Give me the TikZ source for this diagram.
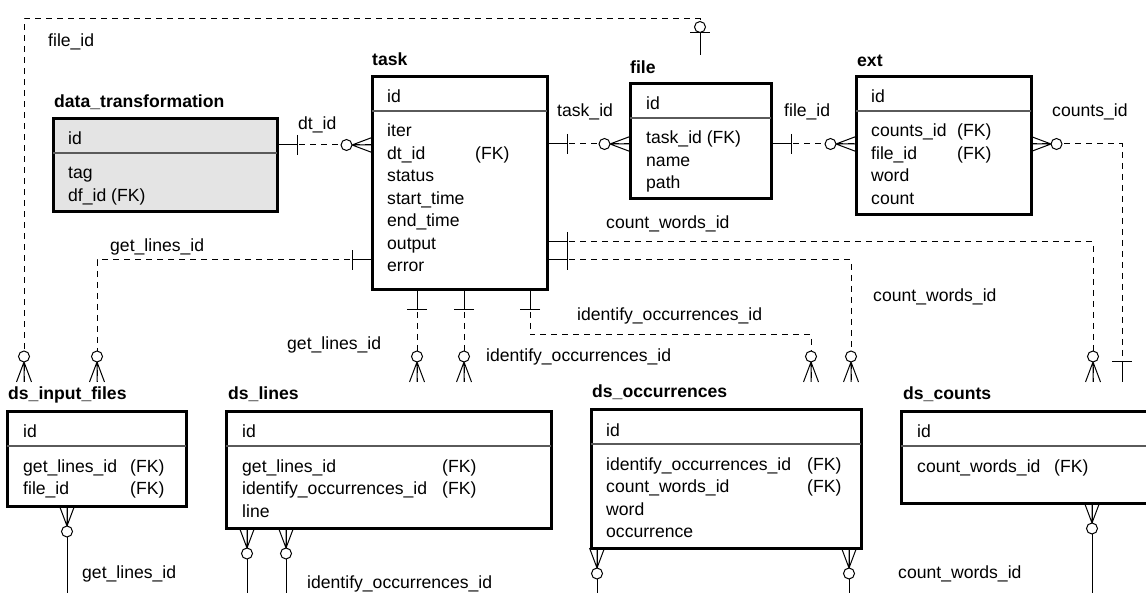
\documentclass[tikz,border=0pt]{standalone}
\usepackage{fontspec}
\setmainfont{Liberation Sans}
\usetikzlibrary{calc}
\newcommand\fsz{\fontsize{17.6}{21}\selectfont}
\definecolor{dtgray}{RGB}{228,228,228}
\definecolor{sepgray}{RGB}{90,90,90}
\tikzset{
  conn/.style={line width=1pt, solid},
  rel/.style={line width=1pt, dash pattern=on 6pt off 5pt},
  idrel/.style={line width=1pt},
  ebox/.style={draw, line width=3pt, anchor=north west, inner sep=0pt, outer sep=0pt},
  fld/.style={anchor=base west, inner sep=0pt, font=\fsz},
  ttl/.style={anchor=base west, inner sep=0pt, font=\fsz\bfseries},
  lbl/.style={anchor=base west, inner sep=0pt, font=\fsz},
  sepl/.style={line width=1.4pt, draw=sepgray},
  pics/one/.style={code={\draw[conn] (0,0) -- (20,0) (20,-10) -- (20,10);}},
  pics/zmany/.style={code={\draw[conn] (0,-7.5) -- (20,0) -- (0,7.5) (0,0) -- (20,0); \draw[conn, fill=white] (25.5,0) circle[radius=5.5pt];}},
  pics/zone/.style={code={\draw[conn] (0,0) -- (22,0) (22,-10) -- (22,10); \draw[conn, fill=white] (28,0) circle[radius=5.5pt];}},
}
\begin{document}
\begin{tikzpicture}[x=1pt,y=-1pt]
\path[use as bounding box, fill=white] (0,0) rectangle (1146,593);
\clip (0,0) rectangle (1146,593);

% ---------- entities ----------
% data_transformation
\node[ebox, fill=dtgray, minimum width=224pt, minimum height=93pt] (dt) at (53,119) {};
\draw[sepl] ($(dt.north west)+(0,34)$) -- ($(dt.north east)+(0,34)$);
\node[ttl] (dt-t) at (54,108) {data\_transformation};
\node[fld] (dt-1) at (68,145) {id};
\node[fld] (dt-2) at (68,179) {tag};
\node[fld] (dt-3) at (68,201.5) {df\_id (FK)};

% task
\node[ebox, fill=white, minimum width=175pt, minimum height=213pt] (task) at (372,77) {};
\draw[sepl] ($(task.north west)+(0,34)$) -- ($(task.north east)+(0,34)$);
\node[ttl] (task-t) at (372,66) {task};
\node[fld] (task-1) at (387,103) {id};
\node[fld] (task-2) at (387,137) {iter};
\node[fld] (task-3) at (387,159.5) {dt\_id};
\node[fld] (task-3k) at (475,159.5) {(FK)};
\node[fld] (task-4) at (387,182) {status};
\node[fld] (task-5) at (387,204.5) {start\_time};
\node[fld] (task-6) at (387,227) {end\_time};
\node[fld] (task-7) at (387,249.5) {output};
\node[fld] (task-8) at (387,272) {error};

% file
\node[ebox, fill=white, minimum width=141pt, minimum height=115pt] (file) at (630,84) {};
\draw[sepl] ($(file.north west)+(0,34)$) -- ($(file.north east)+(0,34)$);
\node[ttl] (file-t) at (630,74) {file};
\node[fld] (file-1) at (646,110) {id};
\node[fld] (file-2) at (646,144) {task\_id (FK)};
\node[fld] (file-3) at (646,166.5) {name};
\node[fld] (file-4) at (646,189) {path};

% ext
\node[ebox, fill=white, minimum width=175pt, minimum height=138pt] (ext) at (856,77) {};
\draw[sepl] ($(ext.north west)+(0,34)$) -- ($(ext.north east)+(0,34)$);
\node[ttl] (ext-t) at (857,67) {ext};
\node[fld] (ext-1) at (871,103) {id};
\node[fld] (ext-2) at (871,137) {counts\_id};
\node[fld] (ext-2k) at (957,137) {(FK)};
\node[fld] (ext-3) at (871,159.5) {file\_id};
\node[fld] (ext-3k) at (957,159.5) {(FK)};
\node[fld] (ext-4) at (871,182) {word};
\node[fld] (ext-5) at (871,204.5) {count};

% ds_input_files
\node[ebox, fill=white, minimum width=179pt, minimum height=94pt] (dsif) at (7,412) {};
\draw[sepl] ($(dsif.north west)+(0,34)$) -- ($(dsif.north east)+(0,34)$);
\node[ttl] (dsif-t) at (8,400) {ds\_input\_files};
\node[fld] (dsif-1) at (23,438) {id};
\node[fld] (dsif-2) at (23,472) {get\_lines\_id};
\node[fld] (dsif-2k) at (130,472) {(FK)};
\node[fld] (dsif-3) at (23,494.5) {file\_id};
\node[fld] (dsif-3k) at (130,494.5) {(FK)};

% ds_lines
\node[ebox, fill=white, minimum width=325pt, minimum height=116pt] (lines) at (226,412) {};
\draw[sepl] ($(lines.north west)+(0,34)$) -- ($(lines.north east)+(0,34)$);
\node[ttl] (lines-t) at (228,400) {ds\_lines};
\node[fld] (lines-1) at (242,438) {id};
\node[fld] (lines-2) at (242,472) {get\_lines\_id};
\node[fld] (lines-2k) at (442,472) {(FK)};
\node[fld] (lines-3) at (242,494.5) {identify\_occurrences\_id};
\node[fld] (lines-3k) at (442,494.5) {(FK)};
\node[fld] (lines-4) at (242,517) {line};

% ds_occurrences
\node[ebox, fill=white, minimum width=270pt, minimum height=138pt] (occ) at (591,410) {};
\draw[sepl] ($(occ.north west)+(0,34)$) -- ($(occ.north east)+(0,34)$);
\node[ttl] (occ-t) at (592,398) {ds\_occurrences};
\node[fld] (occ-1) at (606,436) {id};
\node[fld] (occ-2) at (606,470) {identify\_occurrences\_id};
\node[fld] (occ-2k) at (807,470) {(FK)};
\node[fld] (occ-3) at (606,492.5) {count\_words\_id};
\node[fld] (occ-3k) at (807,492.5) {(FK)};
\node[fld] (occ-4) at (606,515) {word};
\node[fld] (occ-5) at (606,537.5) {occurrence};

% ds_counts
\node[ebox, fill=white, minimum width=260pt, minimum height=91pt] (cnt) at (901,412) {};
\draw[sepl] ($(cnt.north west)+(0,34)$) -- ($(cnt.north east)+(0,34)$);
\node[ttl] (cnt-t) at (903,400) {ds\_counts};
\node[fld] (cnt-1) at (917,438) {id};
\node[fld] (cnt-2) at (917,472) {count\_words\_id};
\node[fld] (cnt-2k) at (1054,472) {(FK)};

% ---------- attachment points above titles ----------
\coordinate (file-top) at ($(file.north west)+(0,-29)$);
\coordinate (dsif-top) at ($(dsif.north west)+(0,-30)$);
\coordinate (lines-top) at ($(lines.north west)+(0,-30)$);
\coordinate (occ-top) at ($(occ.north west)+(0,-28)$);
\coordinate (cnt-top) at ($(cnt.north west)+(0,-30)$);
\coordinate (edge) at (0,600);

% ---------- relations ----------
% dt_id
\draw[rel] (dt.east |- 0,145) -- (task.west |- 0,145);
\pic at (dt.east |- 0,145) {one};
\pic[rotate=180] at (task.west |- 0,145) {zmany};
\node[lbl] (l-dt) at (298,130) {dt\_id};

% task_id
\draw[rel] (task.east |- 0,144) -- (file.west |- 0,144);
\pic at (task.east |- 0,144) {one};
\pic[rotate=180] at (file.west |- 0,144) {zmany};
\node[lbl] (l-task) at (557,117) {task\_id};

% file_id (file -> ext)
\draw[rel] (file.east |- 0,144) -- (ext.west |- 0,144);
\pic at (file.east |- 0,144) {one};
\pic[rotate=180] at (ext.west |- 0,144) {zmany};
\node[lbl] (l-file) at (784,117) {file\_id};

% counts_id (ext -> ds_counts)
\draw[rel] (ext.east |- 0,144) -| (1122,0 |- cnt-top);
\pic at (ext.east |- 0,144) {zmany};
\pic[rotate=90] at (1122,0 |- cnt-top) {one};
\node[lbl] (l-counts) at (1052,117) {counts\_id};

% file_id (ds_input_files -> file)
\draw[rel] (24,0 |- dsif-top) |- (700,19) -- (700,0 |- file-top);
\pic[rotate=90] at (24,0 |- dsif-top) {zmany};
\pic[rotate=90] at (700,0 |- file-top) {zone};
\node[lbl] (l-fid) at (48,47) {file\_id};

% get_lines_id (task -> ds_input_files)
\draw[rel] (task.west |- 0,260) -| (97,0 |- dsif-top);
\pic[rotate=180] at (task.west |- 0,260) {one};
\pic[rotate=90] at (97,0 |- dsif-top) {zmany};
\node[lbl] (l-gl1) at (110,252) {get\_lines\_id};

% get_lines_id (task -> ds_lines)
\draw[rel] (417,0 |- task.south) -- (417,0 |- lines-top);
\pic[rotate=-90] at (417,0 |- task.south) {one};
\pic[rotate=90] at (417,0 |- lines-top) {zmany};
\node[lbl] (l-gl2) at (287,350) {get\_lines\_id};

% identify_occurrences_id (task -> ds_lines)
\draw[rel] (464,0 |- task.south) -- (464,0 |- lines-top);
\pic[rotate=-90] at (464,0 |- task.south) {one};
\pic[rotate=90] at (464,0 |- lines-top) {zmany};
\node[lbl] (l-io1) at (486,362) {identify\_occurrences\_id};

% identify_occurrences_id (task -> ds_occurrences)
\draw[rel] (530,0 |- task.south) -- (530,335) -| (811,0 |- occ-top);
\pic[rotate=-90] at (530,0 |- task.south) {one};
\pic[rotate=90] at (811,0 |- occ-top) {zmany};
\node[lbl] (l-io2) at (577,321) {identify\_occurrences\_id};

% count_words_id (task -> ds_counts)
\draw[rel] (task.east |- 0,242) -| (1093,0 |- cnt-top);
\pic at (task.east |- 0,242) {one};
\pic[rotate=90] at (1093,0 |- cnt-top) {zmany};
\node[lbl] (l-cw1) at (606,229) {count\_words\_id};

% count_words_id (task -> ds_occurrences)
\draw[rel] (task.east |- 0,260) -| (851,0 |- occ-top);
\pic at (task.east |- 0,260) {one};
\pic[rotate=90] at (851,0 |- occ-top) {zmany};
\node[lbl] (l-cw2) at (873,302) {count\_words\_id};

% ---------- relations leaving the picture at the bottom ----------
\draw[idrel] (67,0 |- dsif.south) -- (67,0 |- edge);
\pic[rotate=-90] at (67,0 |- dsif.south) {zmany};
\node[lbl] (l-gl3) at (82,578) {get\_lines\_id};

\draw[idrel] (247,0 |- lines.south) -- (247,0 |- edge);
\pic[rotate=-90] at (247,0 |- lines.south) {zmany};
\draw[idrel] (286,0 |- lines.south) -- (286,0 |- edge);
\pic[rotate=-90] at (286,0 |- lines.south) {zmany};
\node[lbl] (l-io3) at (307,588) {identify\_occurrences\_id};

\draw[idrel] (597,0 |- occ.south) -- (597,0 |- edge);
\pic[rotate=-90] at (597,0 |- occ.south) {zmany};
\draw[idrel] (849,0 |- occ.south) -- (849,0 |- edge);
\pic[rotate=-90] at (849,0 |- occ.south) {zmany};
\node[lbl] (l-cw3) at (898,578) {count\_words\_id};

\draw[idrel] (1092,0 |- cnt.south) -- (1092,0 |- edge);
\pic[rotate=-90] at (1092,0 |- cnt.south) {zmany};
\end{tikzpicture}
\end{document}
